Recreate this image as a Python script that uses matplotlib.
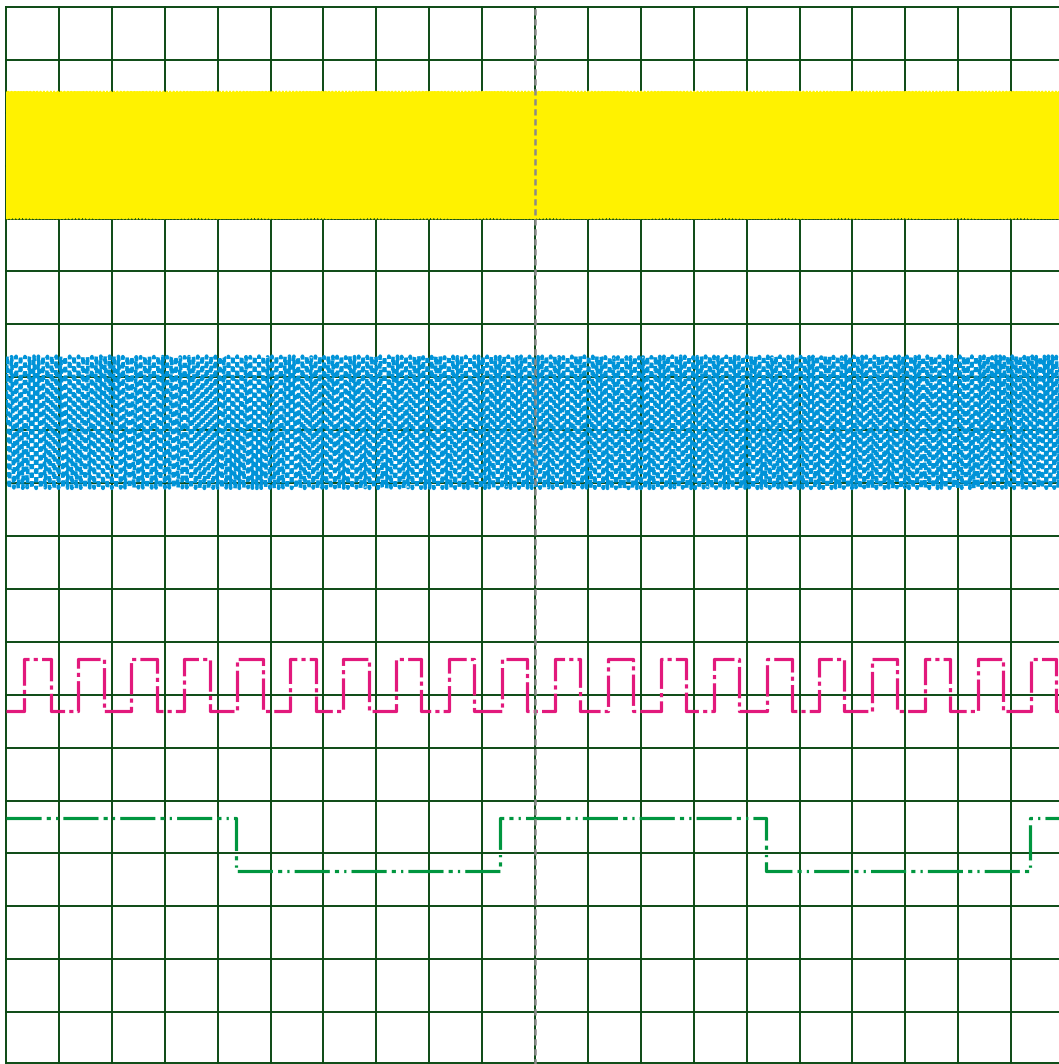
import numpy as np
import matplotlib
matplotlib.use("Agg")
import matplotlib.pyplot as plt

# pantalla: 20 x 20 divisiones
n_div = 20

# canal 1 (amarillo): portadora rapida
ch1_low, ch1_high = 16.0, 18.4
ch1_cycles_per_div = 31.0

# canal 2 (azul): senal rapida punteada
ch2_low, ch2_high = 10.9, 13.4
ch2_cycles_per_div = 11.8
ch2_samples_per_div = 240

# canal 3 (magenta): reloj, flancos (divisiones)
ch3_low, ch3_high = 6.69, 7.67
ch3_rise = [0.34, 1.36, 2.36, 3.36, 4.36, 5.37, 6.37, 7.37, 8.37, 9.38,
            10.38, 11.38, 12.38, 13.39, 14.39, 15.37, 16.37, 17.37, 18.38, 19.38]
ch3_fall = [0.85, 1.85, 2.85, 3.86, 4.86, 5.86, 6.86, 7.85, 8.85, 9.85,
            10.85, 11.85, 12.85, 13.86, 14.86, 15.84, 16.84, 17.84, 18.85, 19.85]

# canal 4 (verde): senal lenta
ch4_low, ch4_high = 3.67, 4.66
ch4_fall = [4.35, 14.37]
ch4_rise = [9.34, 19.36]


def square(rise, fall, low, high, start_high=False):
    edges = sorted([(x, high) for x in rise] + [(x, low) for x in fall])
    xs, ys = [0.0], [high if start_high else low]
    for x, lvl in edges:
        xs += [x, x]
        ys += [ys[-1], lvl]
    xs.append(n_div)
    ys.append(ys[-1])
    return np.array(xs), np.array(ys)


fig = plt.figure(figsize=(10.59, 10.64), dpi=100)
div_px = 52.9
ax = fig.add_axes([6 / 1059, (1064 - 7 - 20 * div_px) / 1064,
                   20 * div_px / 1059, 20 * div_px / 1064])
ax.set_xlim(0, n_div)
ax.set_ylim(0, n_div)
ax.axis("off")

grid_color = "#0c4a14"
for k in range(n_div + 1):
    ax.axvline(k, color=grid_color, lw=1.4, zorder=1, clip_on=False)
    ax.axhline(k, color=grid_color, lw=1.4, zorder=1, clip_on=False)
# borde inferior visible
ax.axhline(0.04, color=grid_color, lw=1.4, zorder=1)

# canal 1
t1 = np.linspace(0, n_div, 9000)
mid1, amp1 = (ch1_low + ch1_high) / 2, (ch1_high - ch1_low) / 2
ax.plot(t1, mid1 + amp1 * np.sin(2 * np.pi * ch1_cycles_per_div * t1),
        color="#FFF200", lw=1.5, zorder=3)

# canal 2
t2 = np.arange(0, n_div, 1 / ch2_samples_per_div)
mid2, amp2 = (ch2_low + ch2_high) / 2, (ch2_high - ch2_low) / 2
ax.plot(t2, mid2 + amp2 * np.sin(2 * np.pi * ch2_cycles_per_div * t2 * (1 + 0.003 * t2)),
        color="#0093D8", lw=2.6, linestyle=(0, (1.4, 1.0)), zorder=3)

# canal 3
x3, y3 = square(ch3_rise, ch3_fall, ch3_low, ch3_high)
ax.plot(x3, y3, color="#E2197C", lw=2.3, linestyle=(0, (9.8, 1.3, 1.3, 1.3)), zorder=3)

# canal 4
x4, y4 = square(ch4_rise, ch4_fall, ch4_low, ch4_high, start_high=True)
ax.plot(x4, y4, color="#00963F", lw=2.3,
        linestyle=(0, (11, 1.6, 1.3, 1.6, 0.7, 1.6)), zorder=3)

# marcador central
ax.axvline(n_div / 2, color="#8a8a8a", lw=1.8, linestyle=(0, (2.5, 1.5)), zorder=4)

fig.savefig("out.png", dpi=100)
